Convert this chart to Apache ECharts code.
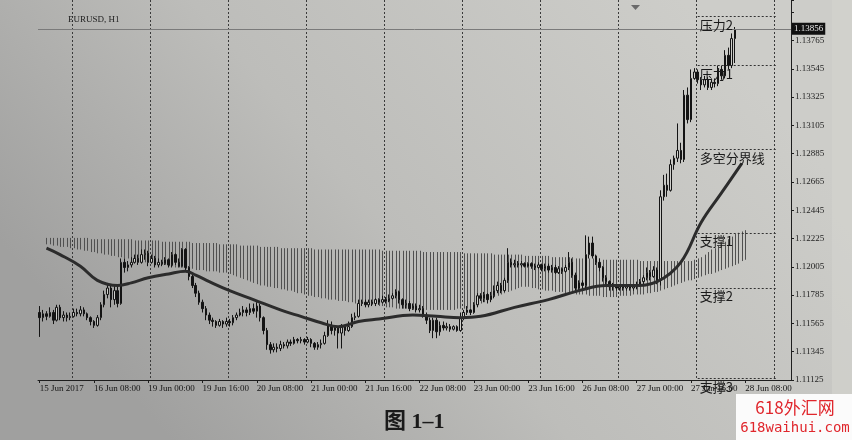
<!DOCTYPE html>
<html><head><meta charset="utf-8">
<script src="https://cdn.jsdelivr.net/npm/echarts@6/dist/echarts.min.js"></script>
<style>html,body{margin:0;padding:0;background:#bdbdba}#c{width:852px;height:440px}</style>
</head><body><div id="c"></div><script>
// ---------------- data ----------------
const SYMBOL = 'EURUSD, H1';
const BASE_PRICE = 1.11125;           // lowest price label
const PRICE_STEP = 0.0022;            // price label step
const PRICE_TOP = 1.1408;             // price at the top edge of the chart
const BID = 1.13856;
const SLOTS = 222;                    // H1 bar slots incl. the empty right shift
const TICK_LABELS = ['15 Jun 2017','16 Jun 08:00','19 Jun 00:00','19 Jun 16:00','20 Jun 08:00','21 Jun 00:00','21 Jun 16:00','22 Jun 08:00','23 Jun 00:00','23 Jun 16:00','26 Jun 08:00','27 Jun 00:00','27 Jun 16:00','28 Jun 08:00'];
// [open, close, low, high]
const BARS = [
[1.1165,1.1161,1.1146,1.1170],[1.1161,1.1164,1.1158,1.1167],[1.1164,1.1162,1.1159,1.1166],[1.1162,1.1165,1.1161,1.1169],[1.1165,1.1159,1.1156,1.1167],
[1.1159,1.1169,1.1158,1.1171],[1.1169,1.1161,1.1159,1.1171],[1.1161,1.1163,1.1158,1.1166],[1.1163,1.1161,1.1158,1.1165],[1.1161,1.1162,1.1159,1.1165],
[1.1162,1.1165,1.1161,1.1168],[1.1165,1.1164,1.1162,1.1168],[1.1164,1.1167,1.1162,1.1170],[1.1167,1.1164,1.1162,1.1169],[1.1164,1.1161,1.1159,1.1165],
[1.1161,1.1158,1.1155,1.1162],[1.1158,1.1155,1.1153,1.1159],[1.1155,1.1161,1.1154,1.1163],[1.1161,1.1171,1.1159,1.1173],[1.1171,1.1179,1.1169,1.1182],
[1.1179,1.1184,1.1176,1.1188],[1.1184,1.1175,1.1169,1.1186],[1.1175,1.1182,1.1171,1.1187],[1.1182,1.1172,1.1169,1.1185],[1.1172,1.1204,1.1171,1.1207],
[1.1204,1.1200,1.1196,1.1207],[1.1200,1.1202,1.1197,1.1205],[1.1202,1.1204,1.1200,1.1208],[1.1204,1.1207,1.1203,1.1210],[1.1207,1.1204,1.1202,1.1210],
[1.1204,1.1210,1.1203,1.1214],[1.1210,1.1211,1.1206,1.1214],[1.1211,1.1204,1.1201,1.1213],[1.1204,1.1207,1.1203,1.1210],[1.1207,1.1202,1.1200,1.1209],
[1.1202,1.1204,1.1200,1.1207],[1.1204,1.1203,1.1201,1.1206],[1.1203,1.1206,1.1202,1.1208],[1.1206,1.1202,1.1200,1.1207],[1.1202,1.1210,1.1200,1.1212],
[1.1210,1.1204,1.1202,1.1211],[1.1204,1.1201,1.1200,1.1207],[1.1201,1.1214,1.1200,1.1215],[1.1214,1.1200,1.1197,1.1215],[1.1200,1.1193,1.1190,1.1201],
[1.1193,1.1186,1.1184,1.1195],[1.1186,1.1180,1.1177,1.1188],[1.1180,1.1173,1.1171,1.1182],[1.1173,1.1168,1.1165,1.1175],[1.1168,1.1163,1.1159,1.1170],
[1.1163,1.1159,1.1156,1.1165],[1.1159,1.1158,1.1154,1.1161],[1.1158,1.1155,1.1153,1.1159],[1.1155,1.1158,1.1154,1.1160],[1.1158,1.1156,1.1153,1.1159],
[1.1156,1.1158,1.1154,1.1161],[1.1158,1.1157,1.1154,1.1160],[1.1157,1.1161,1.1155,1.1163],[1.1161,1.1163,1.1159,1.1165],[1.1163,1.1165,1.1162,1.1168],
[1.1165,1.1167,1.1162,1.1170],[1.1167,1.1165,1.1162,1.1169],[1.1165,1.1168,1.1163,1.1172],[1.1168,1.1166,1.1164,1.1172],[1.1166,1.1170,1.1161,1.1173],
[1.1170,1.1161,1.1158,1.1172],[1.1161,1.1151,1.1148,1.1162],[1.1151,1.1140,1.1136,1.1153],[1.1140,1.1136,1.1133,1.1142],[1.1136,1.1138,1.1134,1.1141],
[1.1138,1.1137,1.1134,1.1141],[1.1137,1.1140,1.1135,1.1143],[1.1140,1.1139,1.1137,1.1142],[1.1139,1.1142,1.1137,1.1144],[1.1142,1.1141,1.1139,1.1144],
[1.1141,1.1144,1.1140,1.1146],[1.1144,1.1143,1.1141,1.1145],[1.1143,1.1144,1.1141,1.1146],[1.1144,1.1142,1.1140,1.1145],[1.1142,1.1144,1.1141,1.1146],
[1.1144,1.1141,1.1138,1.1145],[1.1141,1.1138,1.1136,1.1142],[1.1138,1.1140,1.1136,1.1142],[1.1140,1.1141,1.1137,1.1144],[1.1141,1.1147,1.1140,1.1150],
[1.1147,1.1155,1.1146,1.1159],[1.1155,1.1151,1.1148,1.1158],[1.1151,1.1153,1.1147,1.1155],[1.1153,1.1149,1.1137,1.1154],[1.1149,1.1154,1.1137,1.1156],
[1.1154,1.1151,1.1147,1.1155],[1.1151,1.1154,1.1150,1.1158],[1.1154,1.1161,1.1153,1.1164],[1.1161,1.1162,1.1159,1.1165],[1.1162,1.1172,1.1161,1.1175],
[1.1172,1.1173,1.1170,1.1175],[1.1173,1.1171,1.1169,1.1175],[1.1171,1.1173,1.1169,1.1175],[1.1173,1.1172,1.1170,1.1175],[1.1172,1.1175,1.1170,1.1176],
[1.1175,1.1173,1.1171,1.1176],[1.1173,1.1175,1.1172,1.1178],[1.1175,1.1174,1.1172,1.1177],[1.1174,1.1176,1.1173,1.1179],[1.1176,1.1178,1.1175,1.1180],
[1.1178,1.1181,1.1176,1.1183],[1.1181,1.1175,1.1172,1.1182],[1.1175,1.1171,1.1168,1.1176],[1.1171,1.1172,1.1168,1.1175],[1.1172,1.1168,1.1166,1.1174],
[1.1168,1.1170,1.1167,1.1172],[1.1170,1.1167,1.1165,1.1172],[1.1167,1.1168,1.1165,1.1171],[1.1168,1.1163,1.1161,1.1170],[1.1163,1.1159,1.1156,1.1165],
[1.1159,1.1151,1.1149,1.1161],[1.1151,1.1159,1.1145,1.1161],[1.1159,1.1150,1.1145,1.1161],[1.1150,1.1155,1.1147,1.1158],[1.1155,1.1153,1.1151,1.1158],
[1.1153,1.1154,1.1151,1.1157],[1.1154,1.1152,1.1150,1.1156],[1.1152,1.1154,1.1151,1.1155],[1.1154,1.1151,1.1150,1.1155],[1.1151,1.1161,1.1150,1.1165],
[1.1161,1.1165,1.1159,1.1167],[1.1165,1.1167,1.1163,1.1170],[1.1167,1.1165,1.1163,1.1168],[1.1165,1.1171,1.1164,1.1173],[1.1171,1.1178,1.1169,1.1180],
[1.1178,1.1176,1.1174,1.1180],[1.1176,1.1179,1.1173,1.1181],[1.1179,1.1175,1.1172,1.1180],[1.1175,1.1178,1.1173,1.1181],[1.1178,1.1182,1.1176,1.1186],
[1.1182,1.1186,1.1180,1.1189],[1.1186,1.1182,1.1180,1.1188],[1.1182,1.1190,1.1181,1.1192],[1.1190,1.1204,1.1188,1.1215],[1.1204,1.1202,1.1200,1.1207],
[1.1202,1.1203,1.1200,1.1206],[1.1203,1.1202,1.1200,1.1205],[1.1202,1.1203,1.1200,1.1205],[1.1203,1.1201,1.1200,1.1204],[1.1201,1.1203,1.1200,1.1204],
[1.1203,1.1201,1.1199,1.1204],[1.1201,1.1200,1.1198,1.1203],[1.1200,1.1202,1.1199,1.1204],[1.1202,1.1199,1.1197,1.1203],[1.1199,1.1201,1.1197,1.1203],
[1.1201,1.1198,1.1196,1.1203],[1.1198,1.1200,1.1196,1.1202],[1.1200,1.1196,1.1195,1.1202],[1.1196,1.1199,1.1195,1.1201],[1.1199,1.1197,1.1195,1.1200],
[1.1197,1.1200,1.1196,1.1202],[1.1200,1.1204,1.1198,1.1212],[1.1204,1.1194,1.1192,1.1207],[1.1194,1.1184,1.1181,1.1196],[1.1184,1.1188,1.1182,1.1190],
[1.1188,1.1186,1.1182,1.1190],[1.1186,1.1210,1.1184,1.1225],[1.1210,1.1219,1.1207,1.1224],[1.1219,1.1209,1.1207,1.1224],[1.1209,1.1204,1.1202,1.1210],
[1.1204,1.1200,1.1197,1.1207],[1.1200,1.1192,1.1189,1.1201],[1.1192,1.1189,1.1186,1.1194],[1.1189,1.1185,1.1182,1.1190],[1.1185,1.1186,1.1182,1.1188],
[1.1186,1.1184,1.1182,1.1187],[1.1184,1.1185,1.1182,1.1187],[1.1185,1.1184,1.1182,1.1186],[1.1184,1.1186,1.1182,1.1187],[1.1186,1.1184,1.1182,1.1187],
[1.1184,1.1185,1.1182,1.1186],[1.1185,1.1186,1.1183,1.1189],[1.1186,1.1189,1.1185,1.1191],[1.1189,1.1192,1.1187,1.1194],[1.1192,1.1196,1.1190,1.1200],
[1.1196,1.1193,1.1190,1.1198],[1.1193,1.1198,1.1192,1.1201],[1.1198,1.1190,1.1187,1.1200],[1.1190,1.1255,1.1186,1.1260],[1.1255,1.1264,1.1252,1.1272],
[1.1264,1.1260,1.1255,1.1273],[1.1260,1.1280,1.1259,1.1284],[1.1280,1.1285,1.1276,1.1287],[1.1285,1.1291,1.1282,1.1312],[1.1291,1.1284,1.1281,1.1297],
[1.1284,1.1334,1.1282,1.1338],[1.1334,1.1315,1.1312,1.1340],[1.1315,1.1347,1.1313,1.1354],[1.1347,1.1352,1.1346,1.1355],[1.1352,1.1346,1.1343,1.1354],
[1.1346,1.1342,1.1338,1.1348],[1.1342,1.1346,1.1340,1.1349],[1.1346,1.1340,1.1338,1.1348],[1.1340,1.1344,1.1338,1.1347],[1.1344,1.1343,1.1340,1.1347],
[1.1343,1.1354,1.1341,1.1357],[1.1354,1.1349,1.1346,1.1357],[1.1349,1.1365,1.1347,1.1369],[1.1365,1.1357,1.1354,1.1371],[1.1357,1.1378,1.1355,1.1382],
[1.1378,1.1385,1.1359,1.1387]
];
// moving average (多空分界线): bar index and value
const MA_BARS = [2,6,12,17,23,27,32,38,43,46,50,56,63,72,77,83,88,94,100,110,117,124,130,140,150,159,167,175,182,189,195,201,207];
const MA_VALUES = [1.1215,1.1210,1.1201,1.1190,1.1186,1.1188,1.1192,1.1195,1.1197,1.1194,1.1189,1.1182,1.1175,1.1166,1.1162,1.1157,1.1154,1.1158,1.1160,1.1163,1.1162,1.1161,1.1162,1.1169,1.1175,1.1182,1.1186,1.1186,1.1189,1.1204,1.1235,1.1258,1.1281];
// hatched band: upper and lower edge per bar
const CLOUD_TOP = [null,null,
1.1223,1.1223,1.1223,1.1223,1.1223,1.1223,1.1223,1.1223,1.1223,1.1223,1.1223,1.1223,1.1223,
1.1222,1.1222,1.1222,1.1222,1.1222,1.1222,1.1222,1.1222,1.1222,1.1222,1.1222,1.1222,1.1222,
1.1221,1.1221,1.1221,1.1221,1.1221,1.1221,1.1221,1.1221,
1.1220,1.1220,1.1220,1.1220,1.1220,1.1220,1.1220,1.1220,1.1220,
1.1219,1.1219,1.1219,1.1219,1.1219,1.1219,1.1219,1.1219,
1.1218,1.1218,1.1218,1.1218,1.1218,1.1218,
1.1217,1.1217,1.1217,1.1217,1.1217,1.1217,
1.1216,1.1216,1.1216,1.1216,1.1216,1.1216,
1.1215,1.1215,1.1215,1.1215,1.1215,1.1215,1.1215,1.1215,1.1215,1.1215,
1.1214,1.1214,1.1214,1.1214,1.1214,1.1214,1.1214,1.1214,1.1214,1.1214,1.1214,1.1214,1.1214,1.1214,1.1214,1.1214,1.1214,1.1214,1.1214,1.1214,
1.1213,1.1213,1.1213,1.1213,1.1213,1.1213,1.1213,1.1213,1.1213,1.1213,1.1213,1.1213,
1.1212,1.1212,1.1212,1.1212,1.1212,1.1212,1.1212,1.1212,1.1212,1.1212,1.1212,1.1212,
1.1211,1.1211,1.1211,1.1211,1.1211,1.1211,1.1211,1.1211,1.1211,
1.1210,1.1210,1.1210,1.1210,1.1210,1.1210,1.1210,1.1210,1.1210,
1.1209,1.1209,1.1209,1.1209,1.1209,1.1209,1.1209,1.1209,
1.1208,1.1208,1.1208,1.1208,1.1208,1.1208,1.1208,
1.1207,1.1207,1.1207,1.1207,1.1207,1.1207,1.1207,1.1207,
1.1206,1.1206,1.1206,1.1206,1.1206,1.1206,1.1206,1.1206,1.1206,1.1206,1.1206,
1.1205,1.1205,1.1205,1.1205,1.1205,1.1205,1.1205,1.1205,1.1205,1.1205,1.1205,1.1205,1.1205,1.1205,1.1205,1.1205,
1.1206,1.1207,1.1208,1.1210,1.1212,1.1214,1.1215,1.1217,1.1218,1.1220,1.1222,1.1224,1.1226,1.1227,1.1228,1.1229];
const CLOUD_BOTTOM = [null,null,
1.1218,1.1218,1.1217,1.1217,1.1216,1.1216,1.1216,1.1215,1.1215,1.1214,1.1214,
1.1213,1.1213,1.1212,1.1212,1.1211,1.1211,1.1210,1.1210,1.1209,1.1209,1.1208,1.1208,1.1207,1.1207,1.1206,
1.1206,1.1205,1.1205,1.1204,1.1204,1.1204,1.1203,1.1203,1.1202,1.1202,1.1201,1.1201,1.1200,1.1200,
1.1200,1.1199,1.1199,1.1199,1.1198,1.1198,1.1198,1.1197,1.1197,1.1197,1.1197,1.1196,1.1196,1.1196,
1.1195,1.1194,1.1193,1.1192,1.1191,1.1190,1.1189,1.1188,1.1187,1.1186,
1.1186,1.1185,1.1185,1.1184,1.1184,1.1183,1.1183,1.1182,1.1182,1.1181,
1.1180,1.1180,1.1179,1.1178,1.1178,1.1177,1.1177,1.1176,
1.1176,1.1175,1.1175,1.1175,1.1174,1.1174,1.1174,1.1173,1.1173,1.1172,1.1172,
1.1172,1.1171,1.1171,1.1171,1.1170,1.1170,1.1170,1.1169,1.1169,1.1169,1.1168,1.1168,
1.1168,1.1168,1.1168,1.1167,1.1167,1.1167,1.1167,1.1167,1.1167,1.1167,1.1167,1.1167,
1.1167,1.1167,1.1167,1.1167,1.1168,1.1168,1.1168,1.1168,1.1168,
1.1169,1.1170,1.1172,1.1173,1.1174,1.1175,1.1177,1.1178,1.1179,
1.1180,1.1181,1.1182,1.1183,1.1184,1.1185,
1.1185,1.1185,1.1184,1.1184,1.1183,1.1183,1.1182,1.1182,
1.1182,1.1181,1.1181,1.1181,1.1180,1.1180,1.1180,1.1179,1.1179,
1.1179,1.1179,1.1178,1.1178,1.1178,1.1178,1.1177,1.1177,1.1177,
1.1177,1.1177,1.1178,1.1178,1.1178,1.1178,1.1179,1.1179,1.1179,
1.1179,1.1180,1.1180,1.1181,1.1181,1.1182,
1.1183,1.1184,1.1185,1.1186,1.1187,1.1188,
1.1189,1.1190,1.1190,1.1191,1.1192,1.1193,
1.1194,1.1195,1.1195,1.1196,1.1197,1.1198,
1.1199,1.1200,1.1201,1.1202,1.1203,1.1205,1.1206];
// support / resistance annotations
const LEVEL_NAMES = ['压力2','压力1','多空分界线','支撑1','支撑2','支撑3'];
const LEVEL_PRICES = [1.1395,1.1357,1.1292,1.1227,1.1184,1.1114];
const LEVEL_FROM_BAR = 194, LEVEL_TO_BAR = 217;

// ---------------- build ----------------
const toY = p => Math.round((p - BASE_PRICE) * 1e6) / 10;   // offset in 0.00001 units
const cats = Array.from({length: SLOTS}, (_, i) => String(i));
const candleData = BARS.map(b => b.map(toY));
const maData = MA_BARS.map((b, k) => [b, toY(MA_VALUES[k])]);
const cloudData = [];
CLOUD_TOP.forEach((t, i) => { if (t != null) cloudData.push([i, toY(t), toY(CLOUD_BOTTOM[i])]); });
const STEP = Math.round(PRICE_STEP * 1e5);
const TOP = toY(PRICE_TOP);
const serif = '"Liberation Serif", "DejaVu Serif", serif';
const cjk = '"Noto Sans CJK SC", sans-serif';

const levelLines = LEVEL_NAMES.map((n, k) => [
  { coord: [String(LEVEL_FROM_BAR), toY(LEVEL_PRICES[k])],
    label: { show: true, position: 'insideStartBottom', formatter: n, distance: 2,
             color: '#1a1a1a', fontSize: 13, fontFamily: cjk } },
  { coord: [String(LEVEL_TO_BAR), toY(LEVEL_PRICES[k])] }
]);

const chart = echarts.init(document.getElementById('c'), null, {renderer: 'canvas'});
chart.setOption({
  animation: false,
  backgroundColor: {type: 'linear', x: 0.8, y: 0, x2: 0.2, y2: 1,
    colorStops: [{offset: 0, color: '#cdcdc9'}, {offset: 0.55, color: '#bdbdba'}, {offset: 1, color: '#a0a09f'}]},
  grid: {left: 38, right: 61, top: 0, bottom: 60},
  xAxis: {
    type: 'category', data: cats, boundaryGap: true,
    axisLine: {show: true, lineStyle: {color: '#1e1e1e', width: 1}},
    axisTick: {show: true, interval: 15, alignWithLabel: true, length: 3, lineStyle: {color: '#1e1e1e'}},
    axisLabel: {interval: 15, align: 'left', margin: 4, fontSize: 9, fontFamily: serif, color: '#151515',
      formatter: (v, idx) => TICK_LABELS[idx / 16] || ''},
    splitLine: {show: true, interval: (idx) => idx >= 10 && (idx - 10) % 23 === 0,
      lineStyle: {color: '#3a3a3a', type: [2, 2], width: 1}}
  },
  yAxis: {
    type: 'value', position: 'right', min: 0, max: TOP, interval: STEP,
    axisLine: {show: true, lineStyle: {color: '#1e1e1e'}},
    axisTick: {show: true, length: 3, lineStyle: {color: '#1e1e1e'}},
    axisLabel: {margin: 4, fontSize: 9, fontFamily: serif, color: '#1e1e1e',
      formatter: v => v > STEP * 12.2 ? '' : (BASE_PRICE + v / 1e5).toFixed(5)},
    splitLine: {show: false}
  },
  series: [
    {
      type: 'custom', name: 'band', z: 1, silent: true, data: cloudData,
      encode: {x: 0, y: [1, 2]},
      renderItem: (params, api) => {
        const a = api.coord([api.value(0), api.value(1)]);
        const b = api.coord([api.value(0), api.value(2)]);
        const x = Math.round(a[0]) + 0.5;
        return {type: 'line', shape: {x1: x, y1: a[1], x2: x, y2: b[1]},
                style: {stroke: '#505050', lineWidth: 1}};
      }
    },
    {
      type: 'candlestick', name: SYMBOL, z: 3, barWidth: 2, data: candleData,
      itemStyle: {color: '#d0d0cc', color0: '#141414', borderColor: '#141414', borderColor0: '#141414', borderWidth: 1},
      markLine: {
        silent: true, symbol: ['none', 'none'], animation: false,
        data: [
          {yAxis: toY(BID), lineStyle: {color: '#7a7a7a', type: 'solid', width: 1},
           label: {show: true, position: 'end', distance: 1, formatter: BID.toFixed(5),
                   backgroundColor: '#111', color: '#e8e8e8', fontSize: 9, fontFamily: serif, padding: [2, 2, 1, 2]}}
        ].concat(levelLines),
        lineStyle: {color: '#333', type: [2, 2], width: 1}
      }
    },
    {
      type: 'line', name: '多空分界线', z: 4, data: maData, smooth: 0.4, showSymbol: false, symbol: 'none',
      lineStyle: {color: '#2c2c2c', width: 3}
    }
  ],
  graphic: [
    {type: 'rect', left: 832, top: 0, shape: {width: 20, height: 395}, style: {fill: '#d3d3cf', opacity: 0.6}, z: 0},
    {type: 'text', left: 68, top: 15, style: {text: SYMBOL, font: '9px ' + serif, fill: '#222'}, z: 10},
    {type: 'polygon', shape: {points: [[631, 5], [640, 5], [635.5, 10]]}, style: {fill: '#6a6a6a'}, z: 10},
    {type: 'text', left: 384, top: 411, style: {text: '图 1–1', font: 'bold 22px "Liberation Serif", "Noto Sans CJK SC", serif', fill: '#1a1a1a'}, z: 10},
    {type: 'rect', left: 736, top: 394, shape: {width: 116, height: 46}, style: {fill: '#fbfbfb'}, z: 20},
    {type: 'text', x: 795, y: 408, style: {text: '618外汇网', font: '17px ' + cjk, fill: '#e0262c', textAlign: 'center', textVerticalAlign: 'middle', align: 'center', verticalAlign: 'middle'}, z: 21},
    {type: 'text', x: 795, y: 428, style: {text: '618waihui.com', font: '14px "DejaVu Sans Mono", monospace', fill: '#e0262c', textAlign: 'center', textVerticalAlign: 'middle', align: 'center', verticalAlign: 'middle'}, z: 21}
  ]
});
</script></body></html>
